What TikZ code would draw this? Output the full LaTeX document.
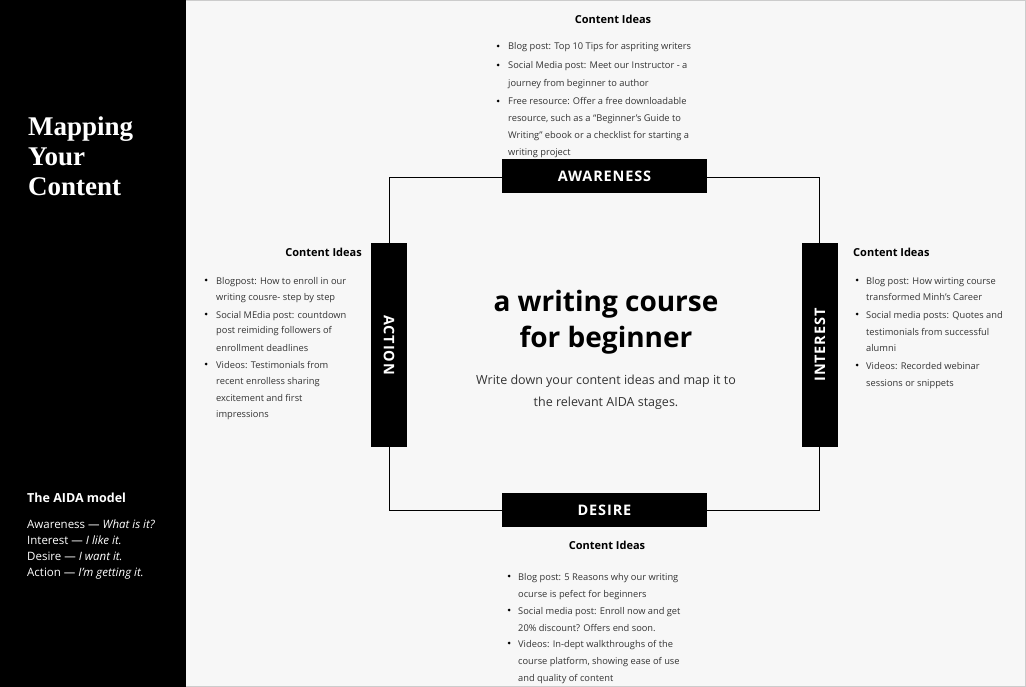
\documentclass[tikz,border=0pt]{standalone}
\usepackage{fontspec}
\setmainfont{Open Sans}
\newfontfamily\ttlfont{Liberation Serif}
\definecolor{bg}{HTML}{F7F7F7}
\definecolor{txt}{HTML}{333333}
\begin{document}
\begin{tikzpicture}[x=1pt,y=-1pt,
  li/.style={anchor=base west,inner sep=0pt,font=\fontsize{9.3}{11}\selectfont,text=txt},
  bu/.style={circle,fill=black,inner sep=0pt,minimum size=3pt},
  hd/.style={inner sep=0pt,font=\fontsize{11}{13}\selectfont\bfseries,anchor=base},
  sb/.style={anchor=base west,inner sep=0pt,text=white},
  st/.style={sb,font=\fontsize{27}{30}\selectfont\ttlfont\bfseries},
  sa/.style={sb,font=\fontsize{11.5}{14}\selectfont},
  ctt/.style={anchor=base,inner sep=0pt,font=\fontsize{28}{35}\selectfont\bfseries},
  cst/.style={anchor=base,inner sep=0pt,font=\fontsize{12.5}{22}\selectfont,text=txt},
  stage/.style={fill=black,text=white,font=\fontsize{14.5}{16}\selectfont\bfseries,inner sep=0pt}]
\useasboundingbox (0,0) rectangle (1026,687);
\fill[bg] (0,0) rectangle (1026,687);
\draw[gray!40] (0.5,0.5) rectangle (1025.5,686.5);
\fill[black] (0,0) rectangle (186,687);
% sidebar
\node[st] (ttl1) at (28,136) {Mapping};
\node[st] (ttl2) at (28,166) {Your};
\node[st] (ttl3) at (28,196) {Content};
\node[sb,font=\fontsize{12.5}{14}\selectfont\bfseries] (aida) at (27,502) {The AIDA model};
\node[sa] (a1) at (27,528) {Awareness --- \textit{What is it?}};
\node[sa] (a2) at (27,544) {Interest --- \textit{I like it.}};
\node[sa] (a3) at (27,560) {Desire --- \textit{I want it.}};
\node[sa] (a4) at (27,576) {Action --- \textit{I'm getting it.}};
% frame
\coordinate (tl) at (389.5,177.5); \coordinate (tr) at (819.5,177.5);
\coordinate (br) at (819.5,510.5); \coordinate (bl) at (389.5,510.5);
\draw[black,line width=0.8pt] (tl) -- (tr) -- (br) -- (bl) -- cycle;
\node[stage,minimum width=205pt,minimum height=34pt] (aw) at (604.5,176) {\addfontfeature{LetterSpace=6}AWARENESS};
\node[stage,minimum width=205pt,minimum height=34pt] (de) at (604.5,510) {\addfontfeature{LetterSpace=6}DESIRE};
\node[stage,minimum width=204pt,minimum height=36pt,rotate=-90] (ac) at (389,345) {\addfontfeature{LetterSpace=6}ACTION};
\node[stage,minimum width=204pt,minimum height=36pt,rotate=90] (in) at (820,345) {\addfontfeature{LetterSpace=6}INTEREST};
% center
\node[ctt] (ct1) at (606,312) {a writing course};
\node[ctt] (ct2) at (606,347) {for beginner};
\node[cst] (cs1) at (606,384) {Write down your content ideas and map it to};
\node[cst] (cs2) at (606,406) {the relevant AIDA stages.};
% top list
\node[hd] (h1) at (613,24) {Content Ideas};
\node[bu] (b11) at (498,46) {}; \node[bu] (b12) at (498,65) {}; \node[bu] (b13) at (498,101) {};
\node[li] (t1) at (508,50) {Blog post: Top 10 Tips for aspriting writers};
\node[li] (t2) at (508,69) {Social Media post: Meet our Instructor - a};
\node[li] (t3) at (508,87) {journey from beginner to author};
\node[li] (t4) at (508,105) {Free resource: Offer a free downloadable};
\node[li] (t5) at (508,122) {resource, such as a ``Beginner's Guide to};
\node[li] (t6) at (508,139) {Writing'' ebook or a checklist for starting a};
\node[li] (t7) at (508,156) {writing project};
% left list
\node[hd,anchor=base east] (h2) at (362,257) {Content Ideas};
\node[bu] (b21) at (206,280) {}; \node[bu] (b22) at (206,314) {}; \node[bu] (b23) at (206,364) {};
\node[li] (l1) at (216,284) {Blogpost: How to enroll in our};
\node[li] (l2) at (216,301) {writing cousre- step by step};
\node[li] (l3) at (216,318) {Social MEdia post: countdown};
\node[li] (l4) at (216,334) {post reimiding followers of};
\node[li] (l5) at (216,351) {enrollment deadlines};
\node[li] (l6) at (216,368) {Videos: Testimonials from};
\node[li] (l7) at (216,384) {recent enrolless sharing};
\node[li] (l8) at (216,401) {excitement and first};
\node[li] (l9) at (216,417) {impressions};
% right list
\node[hd,anchor=base west] (h3) at (853,257) {Content Ideas};
\node[bu] (b31) at (857,280) {}; \node[bu] (b32) at (857,314) {}; \node[bu] (b33) at (857,365) {};
\node[li] (r1) at (866,284) {Blog post: How wirting course};
\node[li] (r2) at (866,301) {transformed Minh's Career};
\node[li] (r3) at (866,318) {Social media posts: Quotes and};
\node[li] (r4) at (866,335) {testimonials from successful};
\node[li] (r5) at (866,352) {alumni};
\node[li] (r6) at (866,369) {Videos: Recorded webinar};
\node[li] (r7) at (866,386) {sessions or snippets};
% bottom list
\node[hd] (h4) at (607,549) {Content Ideas};
\node[bu] (b41) at (509,576) {}; \node[bu] (b42) at (509,610) {}; \node[bu] (b43) at (509,643) {};
\node[li] (d1) at (518,580) {Blog post: 5 Reasons why our writing};
\node[li] (d2) at (518,597) {ocurse is pefect for beginners};
\node[li] (d3) at (518,614) {Social media post: Enroll now and get};
\node[li] (d4) at (518,631) {20\% discount? Offers end soon.};
\node[li] (d5) at (518,647) {Videos: In-dept walkthroughs of the};
\node[li] (d6) at (518,664) {course platform, showing ease of use};
\node[li] (d7) at (518,681) {and quality of content};
\end{tikzpicture}
\end{document}
